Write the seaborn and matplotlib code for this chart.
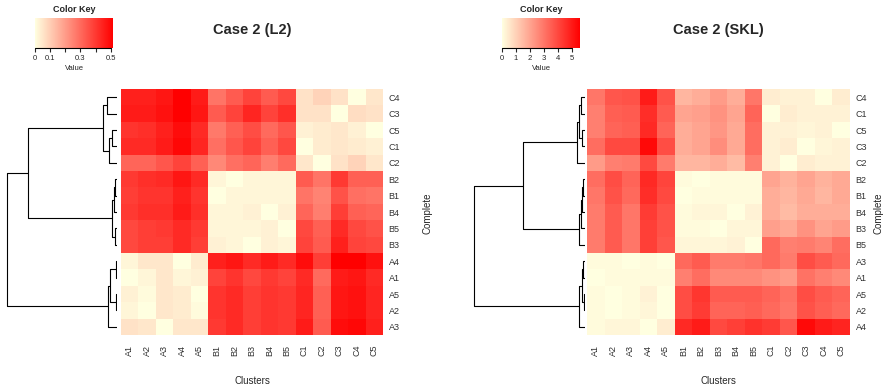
import numpy as np
import pandas as pd
import matplotlib
matplotlib.use("Agg")
import matplotlib.pyplot as plt
import seaborn as sns
from matplotlib.colors import LinearSegmentedColormap

# columns (same for both panels)
clusters = ["A1", "A2", "A3", "A4", "A5", "B1", "B2", "B3", "B4", "B5",
            "C1", "C2", "C3", "C4", "C5"]

# --- Case 2 (L2) ---
l2_rows = ["C4", "C3", "C5", "C1", "C2", "B2", "B1", "B4", "B5", "B3",
           "A4", "A1", "A5", "A2", "A3"]
l2_values = [
    [0.45, 0.45, 0.47, 0.52, 0.46, 0.28, 0.33, 0.38, 0.33, 0.37, 0.06, 0.09, 0.06, 0.00, 0.05],
    [0.46, 0.46, 0.48, 0.52, 0.47, 0.33, 0.38, 0.44, 0.38, 0.42, 0.06, 0.06, 0.00, 0.07, 0.06],
    [0.41, 0.42, 0.45, 0.49, 0.43, 0.27, 0.32, 0.36, 0.30, 0.34, 0.03, 0.04, 0.05, 0.03, 0.00],
    [0.43, 0.43, 0.46, 0.50, 0.44, 0.29, 0.34, 0.38, 0.32, 0.37, 0.00, 0.04, 0.05, 0.04, 0.03],
    [0.31, 0.31, 0.34, 0.38, 0.32, 0.24, 0.29, 0.31, 0.26, 0.30, 0.05, 0.00, 0.06, 0.09, 0.05],
    [0.40, 0.42, 0.43, 0.47, 0.43, 0.02, 0.00, 0.02, 0.02, 0.02, 0.33, 0.28, 0.40, 0.32, 0.32],
    [0.39, 0.41, 0.41, 0.45, 0.41, 0.00, 0.02, 0.02, 0.02, 0.02, 0.28, 0.25, 0.35, 0.29, 0.28],
    [0.40, 0.42, 0.42, 0.46, 0.42, 0.02, 0.02, 0.03, 0.00, 0.03, 0.31, 0.26, 0.39, 0.32, 0.31],
    [0.37, 0.39, 0.40, 0.43, 0.40, 0.02, 0.02, 0.02, 0.03, 0.00, 0.37, 0.32, 0.43, 0.37, 0.35],
    [0.37, 0.39, 0.39, 0.43, 0.39, 0.03, 0.02, 0.00, 0.03, 0.02, 0.38, 0.33, 0.45, 0.38, 0.37],
    [0.02, 0.05, 0.05, 0.00, 0.04, 0.45, 0.47, 0.43, 0.46, 0.43, 0.49, 0.39, 0.52, 0.52, 0.48],
    [0.00, 0.02, 0.05, 0.02, 0.03, 0.38, 0.41, 0.37, 0.40, 0.38, 0.43, 0.30, 0.46, 0.47, 0.43],
    [0.03, 0.01, 0.05, 0.04, 0.00, 0.41, 0.43, 0.39, 0.41, 0.40, 0.44, 0.32, 0.47, 0.48, 0.44],
    [0.02, 0.00, 0.05, 0.04, 0.01, 0.41, 0.43, 0.39, 0.41, 0.40, 0.44, 0.32, 0.47, 0.48, 0.44],
    [0.06, 0.05, 0.00, 0.05, 0.05, 0.40, 0.43, 0.39, 0.41, 0.40, 0.46, 0.33, 0.49, 0.50, 0.45],
]
# merges: (child, child, height); ints refer to earlier merges
l2_merges = [
    ("C4", "C3", 9.3), ("C5", "C1", 4.2), (1, "C2", 7.3), (0, 2, 13.3),
    ("B2", "B1", 1.7), (4, "B4", 2.7), ("B5", "B3", 2.0), (5, 6, 5.0),
    (3, 7, 89.0),
    ("A4", "A1", 1.0), ("A5", "A2", 1.0), (9, 10, 6.7), (11, "A3", 8.3),
    (8, 12, 110.0),
]
l2_ticks = [0, 0.1, 0.2, 0.3, 0.4, 0.5]
l2_ticklabels = ["0", "0.1", "", "0.3", "", "0.5"]
l2_vmax = 0.515

# --- Case 2 (SKL) ---
skl_rows = ["C4", "C1", "C5", "C3", "C2", "B2", "B1", "B4", "B3", "B5",
            "A3", "A1", "A5", "A2", "A4"]
skl_values = [
    [3.0, 3.7, 3.8, 5.0, 3.8, 1.6, 1.8, 2.2, 1.8, 3.0, 0.4, 0.3, 0.3, 0.0, 0.4],
    [2.8, 3.5, 3.6, 4.6, 3.6, 2.0, 2.1, 2.4, 2.0, 3.4, 0.0, 0.4, 0.3, 0.3, 0.3],
    [2.8, 3.4, 3.5, 4.7, 3.4, 1.8, 2.0, 2.3, 1.9, 3.2, 0.3, 0.3, 0.2, 0.3, 0.0],
    [3.2, 4.0, 4.0, 5.4, 3.9, 1.8, 2.0, 2.5, 1.9, 3.2, 0.3, 0.4, 0.0, 0.2, 0.3],
    [2.2, 2.8, 2.9, 4.0, 2.9, 1.6, 1.6, 1.8, 1.5, 2.8, 0.3, 0.0, 0.4, 0.3, 0.3],
    [3.2, 3.9, 3.4, 4.7, 4.1, 0.1, 0.0, 0.1, 0.1, 0.1, 2.0, 1.7, 2.0, 1.7, 1.9],
    [3.0, 3.8, 3.3, 4.6, 4.0, 0.0, 0.1, 0.1, 0.1, 0.1, 1.8, 1.6, 1.9, 1.6, 1.9],
    [2.9, 3.6, 3.0, 4.3, 3.8, 0.1, 0.2, 0.2, 0.0, 0.3, 1.8, 1.5, 1.8, 1.8, 1.8],
    [2.9, 3.6, 3.0, 4.2, 3.8, 0.1, 0.1, 0.0, 0.2, 0.2, 2.1, 1.9, 2.4, 2.0, 2.2],
    [2.9, 3.6, 3.0, 4.2, 3.7, 0.2, 0.2, 0.2, 0.3, 0.0, 3.3, 2.8, 2.9, 2.7, 3.2],
    [0.1, 0.1, 0.0, 0.1, 0.0, 3.3, 3.6, 2.9, 2.9, 3.0, 3.3, 2.9, 3.9, 3.6, 3.3],
    [0.0, 0.1, 0.1, 0.1, 0.1, 2.8, 3.2, 2.6, 2.6, 2.6, 2.4, 2.2, 3.1, 2.8, 2.6],
    [0.1, 0.0, 0.1, 0.3, 0.0, 3.9, 4.4, 3.6, 3.6, 3.6, 3.4, 3.1, 3.9, 3.6, 3.4],
    [0.1, 0.0, 0.1, 0.2, 0.0, 3.9, 4.3, 3.4, 3.4, 3.5, 3.3, 3.0, 3.8, 3.5, 3.3],
    [0.1, 0.2, 0.2, 0.0, 0.4, 4.7, 5.0, 4.0, 4.2, 4.5, 4.3, 3.7, 5.4, 5.0, 4.8],
]
skl_merges = [
    ("C4", "C1", 4.0), ("C5", "C3", 3.3), (0, 1, 6.0), (2, "C2", 8.3),
    ("B2", "B1", 2.3), (4, "B4", 3.0), (5, "B3", 4.3), (6, "B5", 6.0),
    (3, 7, 62.0),
    ("A3", "A1", 1.7), ("A5", "A2", 1.3), (9, 10, 3.3), (11, "A4", 6.0),
    (8, 12, 110.7),
]
skl_ticks = [0, 1, 2, 3, 4, 5]
skl_ticklabels = ["0", "1", "2", "3", "4", "5"]
skl_vmax = 5.6

sns.set_style("white")
plt.rcParams["font.family"] = ["Liberation Sans", "DejaVu Sans"]

cmap = LinearSegmentedColormap.from_list("ly_red", ["#FFFFE0", "#FF0000"])

W, H = 887, 388
fig = plt.figure(figsize=(W / 100, H / 100), dpi=100)


def px_axes(x0, y0, x1, y1):
    return fig.add_axes([x0 / W, 1 - y1 / H, (x1 - x0) / W, (y1 - y0) / H])


def draw_dendro(ax, rows, merges, xmax):
    pos = {name: i + 0.5 for i, name in enumerate(rows)}
    hgt = {name: 0.0 for name in rows}
    for k, (a, b, h) in enumerate(merges):
        ya, yb = pos[a], pos[b]
        ax.plot([hgt[a], h, h, hgt[b]], [ya, ya, yb, yb], color="black", lw=0.8)
        pos[k] = (ya + yb) / 2
        hgt[k] = h
    ax.set_xlim(xmax, 0)
    ax.set_ylim(len(rows), 0)
    ax.axis("off")


def panel(title, rows, values, merges, vmax, ticks, ticklabels,
          x_heat, x_dend, x_key, dmax, x_side):
    df = pd.DataFrame(values, index=rows, columns=clusters)
    ax = px_axes(x_heat[0], 89, x_heat[1], 335)
    kax = px_axes(x_key[0], 18, x_key[1], 48)
    dax = px_axes(x_dend[0], 89, x_dend[1], 335)

    sns.heatmap(df, ax=ax, cmap=cmap, vmin=0, vmax=vmax, cbar_ax=kax,
                cbar_kws={"orientation": "horizontal", "ticks": ticks})
    ax.yaxis.tick_right()
    ax.set_yticks(np.arange(len(rows)) + 0.5)
    ax.set_yticklabels(rows, rotation=0, fontsize=6.5, color="#333333")
    ax.set_xticks(np.arange(len(clusters)) + 0.5)
    ax.set_xticklabels(clusters, rotation=90, fontsize=6.5, color="#333333")
    ax.tick_params(axis="y", length=0, pad=4)
    ax.tick_params(axis="x", length=0, pad=7)
    ax.set_xlabel("")
    ax.set_ylabel("")

    cb = ax.collections[0].colorbar
    cb.outline.set_visible(False)
    kax.set_xticks(ticks)
    kax.set_xticklabels(ticklabels)
    kax.tick_params(labelsize=5.5, length=3, width=0.8, direction="out", pad=2)
    kax.axhline(0, xmin=0, xmax=ticks[-1] / vmax, color="black", lw=0.8, clip_on=False)
    kax.set_xlabel("Value", fontsize=5.5, labelpad=2)
    kax.set_title("Color Key", fontsize=6.5, fontweight="bold", pad=4)

    draw_dendro(dax, rows, merges, dmax)

    cx = (x_heat[0] + x_heat[1]) / 2
    fig.text(cx / W, 1 - 30 / H, title, ha="center", va="center",
             fontsize=10.5, fontweight="bold")
    fig.text(cx / W, 1 - 381 / H, "Clusters", ha="center", va="center", fontsize=7)
    fig.text(x_side / W, 1 - 213 / H, "Complete", rotation=90,
             ha="center", va="center", fontsize=7)


panel("Case 2 (L2)", l2_rows, l2_values, l2_merges, l2_vmax, l2_ticks, l2_ticklabels,
      (121, 383), (5, 116.7), (35, 113), 111.7, 428)
panel("Case 2 (SKL)", skl_rows, skl_values, skl_merges, skl_vmax, skl_ticks, skl_ticklabels,
      (587, 850), (472, 585), (502, 580), 113, 879)

fig.savefig("out.png", dpi=100)
